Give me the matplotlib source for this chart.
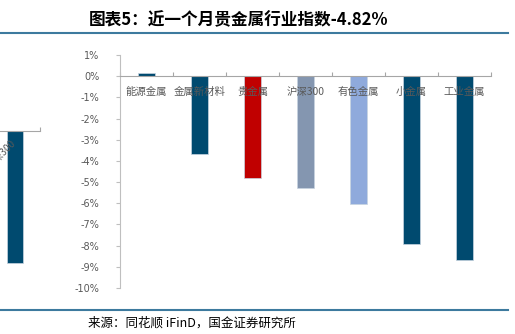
import matplotlib
matplotlib.use("Agg")
import matplotlib.pyplot as plt
from matplotlib.lines import Line2D

plt.rcParams['font.family'] = ['Noto Sans CJK SC', 'DejaVu Sans']

categories = ['能源金属', '金属新材料', '贵金属', '沪深300', '有色金属', '小金属', '工业金属']
values = [0.15, -3.68, -4.82, -5.28, -6.04, -7.9, -8.7]
colors = ['#004A6F', '#004A6F', '#C00000', '#8496B0', '#8FAADC', '#004A6F', '#004A6F']
yticks = list(range(1, -11, -1))

# partial chart cut off at the left edge
left_categories = ['沪深300']
left_values = [-8.8]

W, H = 515, 334
fig = plt.figure(figsize=(W / 100, H / 100), dpi=100)

def fx(px):
    return px / W

def fy(py):
    return 1 - py / H

grey = '#BFBFBF'
txt = '#595959'

# main axes
ax = fig.add_axes([fx(120), fy(288), fx(491 - 120), fy(55) - fy(288)])
x = range(len(categories))
ax.bar(x, values, width=0.32, color=colors, edgecolor='#C8D4E0', linewidth=0.5, zorder=2)
ax.set_xlim(-0.5, len(categories) - 0.5)
ax.set_ylim(-10, 1)
ax.set_yticks(yticks)
ax.set_yticklabels([f'{t}%' for t in yticks], fontsize=7, color=txt, family=['DejaVu Sans'])
ax.tick_params(axis='y', length=3, color=grey, pad=12)
for s in ['top', 'right']:
    ax.spines[s].set_visible(False)
ax.spines['left'].set_color(grey)
ax.spines['bottom'].set_color('#A6A6A6')
ax.spines['bottom'].set_position(('data', 0))
ax.set_xticks([i + 0.5 for i in range(-1, len(categories))])
ax.set_xticklabels([])
ax.tick_params(axis='x', direction='in', length=3, color='#A6A6A6')
for i, c in enumerate(categories):
    ax.text(i, -0.75, c, ha='center', va='center', fontsize=7.5, color=txt, zorder=3)

# partial left chart
ax2 = fig.add_axes([fx(-10), fy(281), fx(50), fy(131) - fy(281)])
ax2.bar(range(len(left_values)), left_values, width=0.32, color='#004A6F',
        edgecolor='#C8D4E0', linewidth=0.5)
ax2.set_xlim(-0.5, 0.5)
ax2.set_ylim(-10, 0)
for s in ['left', 'right', 'bottom']:
    ax2.spines[s].set_visible(False)
ax2.spines['top'].set_color('#A6A6A6')
ax2.set_yticks([])
ax2.xaxis.set_ticks_position('top')
ax2.set_xticks([0.5])
ax2.set_xticklabels([])
ax2.tick_params(axis='x', direction='out', length=3, color='#A6A6A6')
ax2.text(0.05, -0.5, left_categories[0], rotation=45, ha='right', va='top',
         fontsize=7, color=txt, clip_on=False, zorder=3)

# title, rules and source
fig.text(fx(239), fy(20), '图表5：近一个月贵金属行业指数-4.82%', ha='center', va='center',
         fontsize=12, fontweight='bold', style='italic')
fig.add_artist(Line2D([0, fx(508)], [fy(33), fy(33)], color='#3D7A9E', linewidth=1.5))
fig.add_artist(Line2D([0, fx(508)], [fy(310), fy(310)], color='#3D7A9E', linewidth=1.5))
fig.text(fx(88), fy(323), '来源：同花顺 iFinD，国金证券研究所', ha='left', va='center', fontsize=9)

fig.savefig('out.png', dpi=100)
